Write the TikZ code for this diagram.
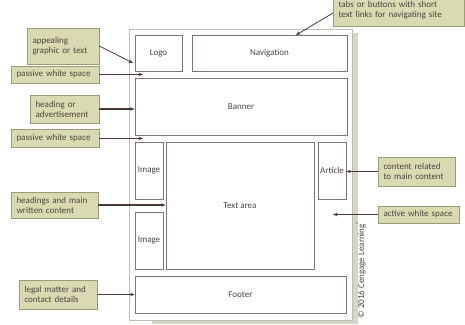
\documentclass[tikz,border=0pt]{standalone}
\usepackage{fontspec}
\setmainfont{Carlito}
\usepackage{tikz}
\usetikzlibrary{arrows.meta, positioning}

\definecolor{calloutfill}{HTML}{DADAB2}
\definecolor{calloutedge}{HTML}{9C9C74}
\definecolor{pageshadow}{HTML}{D5D5C8}
\definecolor{pageedge}{HTML}{BDBDB5}
\definecolor{boxedge}{HTML}{7D7470}
\definecolor{arrowcol}{HTML}{4B3A36}
\definecolor{textcol}{HTML}{4A4540}

\begin{document}
\begin{tikzpicture}[x=1pt, y=-1pt, >={Stealth[length=4.5pt,width=3.5pt]},
	font=\fontsize{9}{10}\selectfont, text=textcol,
	part/.style={draw=boxedge, line width=0.7pt, fill=white, inner sep=0pt},
	callout/.style={draw=calloutedge, fill=calloutfill, line width=0.7pt, align=left, inner xsep=5.5pt, inner ysep=0pt},
	pointer/.style={->, draw=arrowcol, line width=1.8pt}]
	
	\useasboundingbox (0,0) rectangle (465,324);
	
	% Page
	\fill[pageshadow] (152,33) rectangle (358,324);
	\node[draw=pageedge, fill=white, line width=0.7pt, minimum width=223, minimum height=291, inner sep=0pt] (page) at (240.5,174.5) {};
	
	% Parts of the page
	\node[part, minimum width=47, minimum height=36] (logo) at (158.5,53) {Logo};
	\node[part, minimum width=155, minimum height=36] (nav) at (269.5,53) {Navigation};
	\node[part, minimum width=212, minimum height=57] (banner) at (241,106.5) {Banner};
	\node[part, minimum width=28, minimum height=57] (img1) at (149,170.5) {Image};
	\node[part, minimum width=148, minimum height=127] (text) at (240,205.5) {Text area};
	\node[part, minimum width=28, minimum height=57] (article) at (332,170.5) {Article};
	\node[part, minimum width=28, minimum height=57] (img2) at (149,240.5) {Image};
	\node[part, minimum width=211, minimum height=37] (footer) at (240.5,294.5) {Footer};
	
	% Callouts
	\node[callout, text width=61, minimum height=36] (appeal) at (63,46) {appealing\\graphic or text};
	\node[callout, text width=77, minimum height=17] (white1) at (55,74.5) {passive white space};
	\node[callout, text width=58, minimum height=28] (heading) at (64.5,109) {heading or\\advertisement};
	\node[callout, text width=77, minimum height=18] (white2) at (55,138.5) {passive white space};
	\node[callout, text width=76, minimum height=26] (main) at (54.5,205) {headings and main\\written content};
	\node[callout, text width=67, minimum height=29] (legal) at (58,294.5) {legal matter and\\contact details};
	\node[callout, text width=66, minimum height=29] (related) at (416.5,171.5) {content related\\to main content};
	\node[callout, text width=70, minimum height=17] (active) at (418.5,214.5) {active white space};
	\node[callout, text width=120, minimum height=32] (tabs) at (398.5,10) {tabs or buttons with short\\text links for navigating site};
	
	\node[rotate=90, font=\fontsize{9}{10}\selectfont] (credit) at (361,269.5) {© 2016 Cengage Learning\textsuperscript{®}};
	
	% Free ends
	\coordinate (logo end) at (133,63);
	\coordinate (gap1) at (143,74.5);
	\coordinate (gap2) at (143,138.5);
	\coordinate (gap3) at (333,214.5);
	\coordinate (nav end) at (296,35);
	\coordinate (tabs start) at (333,13);
	
	% Arrows
	\draw[pointer, line width=0.8pt] (appeal.east) -- (logo end);
	\draw[pointer] (white1.east) -- (gap1);
	\draw[pointer] (heading.east) -- (banner.west |- heading.east);
	\draw[pointer] (white2.east) -- (gap2);
	\draw[pointer] (main.east) -- (text.west |- main.east);
	\draw[pointer] (legal.east) -- (footer.west |- legal.east);
	\draw[pointer] (related.west) -- (article.east |- related.west);
	\draw[pointer] (active.west) -- (gap3);
	\draw[pointer, line width=0.8pt] (tabs start) -- (nav end);
	
\end{tikzpicture}
\end{document}
